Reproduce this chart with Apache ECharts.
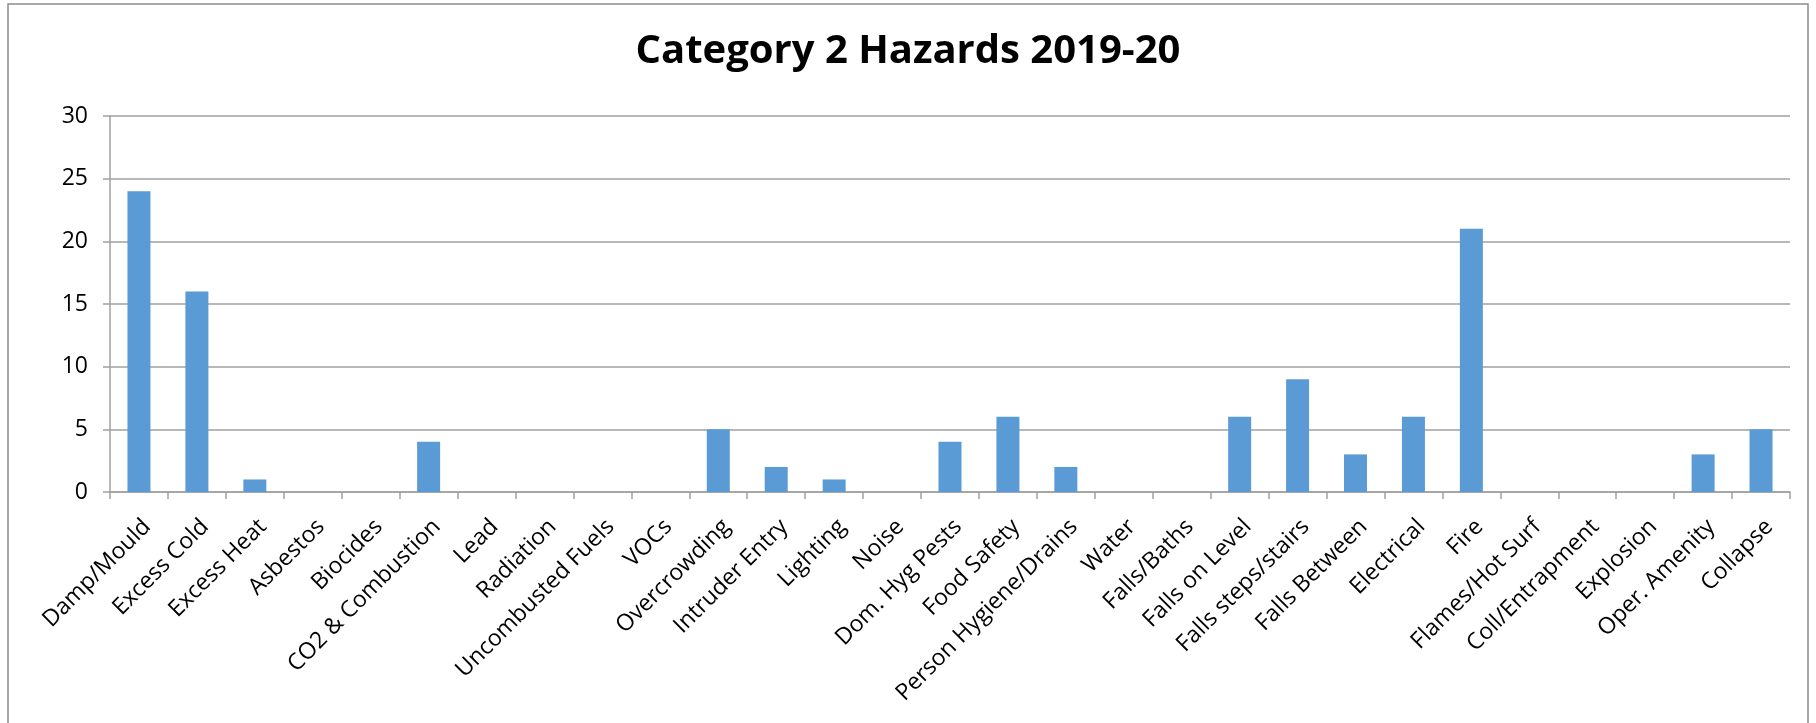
<!DOCTYPE html>
<html>
<head>
<meta charset="utf-8">
<script src="https://cdn.jsdelivr.net/npm/echarts@6/dist/echarts.min.js"></script>
<style>
html,body{margin:0;padding:0;background:#fff;}
#c{width:1816px;height:723px;}
</style>
</head>
<body>
<div id="c"></div>
<script>
const titleText = 'Category 2 Hazards 2019-20';
const categories = ['Damp/Mould','Excess Cold','Excess Heat','Asbestos','Biocides','CO2 & Combustion','Lead','Radiation','Uncombusted Fuels','VOCs','Overcrowding','Intruder Entry','Lighting','Noise','Dom. Hyg Pests','Food Safety','Person Hygiene/Drains','Water','Falls/Baths','Falls on Level','Falls steps/stairs','Falls Between','Electrical','Fire','Flames/Hot Surf','Coll/Entrapment','Explosion','Oper. Amenity','Collapse'];
const values = [24,16,1,0,0,4,0,0,0,0,5,2,1,0,4,6,2,0,0,6,9,3,6,21,0,0,0,3,5];
const yMin = 0, yMax = 30, yStep = 5;

const chart = echarts.init(document.getElementById('c'), null, {renderer:'canvas'});
const font = '"Open Sans", "Noto Sans", sans-serif';
chart.setOption({
  animation:false,
  backgroundColor:'#fff',
  graphic:[{type:'rect', shape:{x:8,y:4,width:1800,height:740}, style:{fill:'none', stroke:'#8c8c8c', lineWidth:1.5}, silent:true}],
  title:{text:titleText, left:'center', top:27, textStyle:{fontFamily:font, fontWeight:'bold', fontSize:40, color:'#000'}},
  grid:{left:110, right:26, top:116, bottom:231, containLabel:false},
  xAxis:{
    type:'category', data:categories, boundaryGap:true,
    axisLine:{lineStyle:{color:'#a0a0a0', width:1.5}},
    axisTick:{show:true, length:7, alignWithLabel:false, interval:0, lineStyle:{color:'#a0a0a0', width:1.5}},
    axisLabel:{interval:0, rotate:45, margin:23, verticalAlign:'top', fontFamily:font, fontSize:23, color:'#000'}
  },
  yAxis:{
    type:'value', min:yMin, max:yMax, interval:yStep,
    axisLine:{show:true, lineStyle:{color:'#a0a0a0', width:1.5}},
    axisTick:{show:true, length:7, lineStyle:{color:'#a0a0a0', width:1.5}},
    splitLine:{lineStyle:{color:'#a0a0a0', width:1.5}},
    axisLabel:{margin:22, fontFamily:font, fontSize:23, color:'#000'}
  },
  series:[{type:'bar', data:values, barWidth:23, itemStyle:{color:'#5b9bd5'}}]
});
</script>
</body>
</html>
